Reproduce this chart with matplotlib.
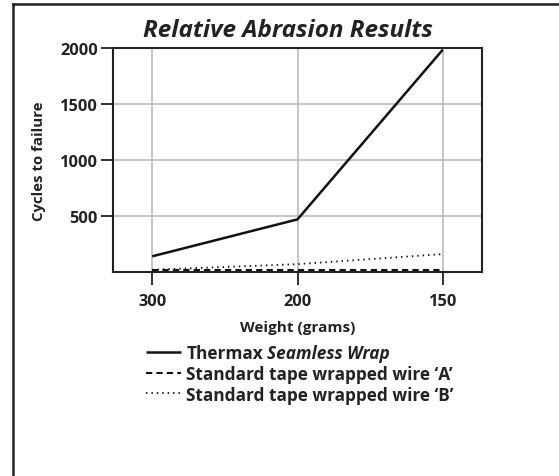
import numpy as np
import matplotlib
matplotlib.use('Agg')
import matplotlib.pyplot as plt
from matplotlib.lines import Line2D

plt.rcParams['font.family'] = ['Open Sans', 'DejaVu Sans']

weights = ['300', '200', '150']
thermax = [140, 470, 1985]
tape_a = [18, 18, 18]
tape_b = [20, 70, 160]
yticks = [500, 1000, 1500, 2000]

fig = plt.figure(figsize=(5.59, 4.77), dpi=100)
ax = fig.add_axes([113 / 559, 1 - 273 / 477, 369 / 559, 224 / 477])

x = np.arange(len(weights))
ax.plot(x, thermax, color='#111111', lw=1.8, solid_capstyle='butt', label='Thermax')
ax.plot(x, tape_a, color='#111111', lw=1.5, dashes=(3, 2), label="Standard tape wrapped wire \u2018A\u2019")
ax.plot(x, tape_b, color='#111111', lw=1.3, dashes=(0.8, 2.2), label="Standard tape wrapped wire \u2018B\u2019")

ax.set_xlim(-0.27, 2.27)
ax.set_ylim(0, 2000)
ax.set_xticks(x)
ax.set_xticklabels(weights)
ax.set_yticks(yticks)
ax.grid(True, color='#b5b5b5', lw=1.1)
ax.set_axisbelow(True)
for s in ax.spines.values():
    s.set_linewidth(1.5)
    s.set_color('#222222')
ax.tick_params(direction='out', length=9, width=1.3, color='#222222', labelsize=11.8)
ax.tick_params(axis='x', pad=6)
ax.tick_params(axis='y', pad=2)
for t in ax.get_xticklabels() + ax.get_yticklabels():
    t.set_fontweight('bold')
    t.set_color('#222222')

ax.set_xlabel('Weight (grams)', fontsize=11, fontweight='bold', color='#222222', labelpad=8)
ax.set_ylabel('Cycles to failure', fontsize=10.8, fontweight='bold', color='#222222', labelpad=10)
fig.text(288 / 559, 1 - 31 / 477, 'Relative Abrasion Results', ha='center', va='center',
         fontsize=17.5, fontweight='bold', style='italic', color='#222222')

leg = fig.legend(loc='upper left', bbox_to_anchor=(146 / 559, 1 - 345 / 477), frameon=False,
                 borderpad=0, borderaxespad=0, handlelength=2.05, handletextpad=0.3,
                 labelspacing=0.16, prop={'size': 12.4, 'weight': 'bold'})
for t in leg.get_texts():
    t.set_color('#222222')
fig.canvas.draw()
first = leg.get_texts()[0]
ax.annotate('Seamless Wrap', xy=(1, 0), xycoords=first, xytext=(3, 0), textcoords='offset points',
            ha='left', va='bottom', fontsize=12.4, fontweight='bold', style='italic', color='#222222',
            annotation_clip=False)

# outer frame lines
fig.add_artist(Line2D([13 / 559, 13 / 559], [0, 1 - 5 / 477], transform=fig.transFigure, color='#222222', lw=1.8))
fig.add_artist(Line2D([13 / 559, 1], [1 - 5 / 477, 1 - 5 / 477], transform=fig.transFigure, color='#222222', lw=1.8))

fig.savefig('out.png', dpi=100)
